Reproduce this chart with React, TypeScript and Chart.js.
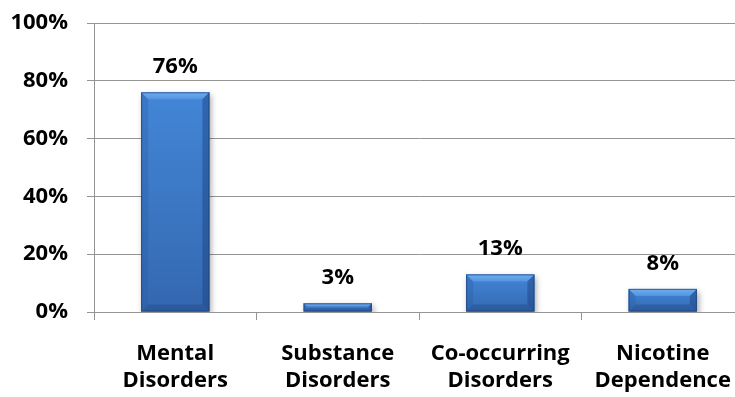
import React, { useEffect, useRef } from "react";
import { Chart, registerables } from "chart.js";

Chart.register(...registerables);

const categories: string[][] = [
  ["Mental", "Disorders"],
  ["Substance", "Disorders"],
  ["Co-occurring", "Disorders"],
  ["Nicotine", "Dependence"],
];
const shares: number[] = [76, 3, 13, 8];
const yTicks: number[] = [0, 20, 40, 60, 80, 100];

const FONT = "'Open Sans', Lato, sans-serif";
const GRID = "#949494";

// Shadowed bars with a bevelled face and a value label above each one
const bevelPlugin = {
  id: "bevelBars",
  beforeDatasetsDraw(chart: any) {
    const ctx = chart.ctx;
    ctx.save();
    ctx.shadowColor = "rgba(0,0,0,0.35)";
    ctx.shadowBlur = 6;
    ctx.shadowOffsetX = 2;
    ctx.shadowOffsetY = 3;
  },
  afterDatasetsDraw(chart: any) {
    const ctx = chart.ctx;
    ctx.restore();
    const meta = chart.getDatasetMeta(0);
    meta.data.forEach((el: any, i: number) => {
      const { x, y, base, width } = el.getProps(["x", "y", "base", "width"], true);
      const l = x - width / 2;
      const r = x + width / 2;
      const t = y;
      const btm = base;
      const h = btm - t;
      const b = Math.min(7, h * 0.4);

      ctx.save();
      // face
      const face = ctx.createLinearGradient(0, t, 0, btm);
      face.addColorStop(0, "#4386d7");
      face.addColorStop(1, "#3468b0");
      ctx.fillStyle = face;
      ctx.fillRect(l, t, width, h);

      const poly = (pts: number[][], fill: any) => {
        ctx.beginPath();
        ctx.moveTo(pts[0][0], pts[0][1]);
        for (let k = 1; k < pts.length; k++) ctx.lineTo(pts[k][0], pts[k][1]);
        ctx.closePath();
        ctx.fillStyle = fill;
        ctx.fill();
      };
      // top bevel
      const topG = ctx.createLinearGradient(0, t, 0, t + b);
      topG.addColorStop(0, "#72adef");
      topG.addColorStop(1, "#5294e0");
      poly([[l, t], [r, t], [r - b, t + b], [l + b, t + b]], topG);
      // left bevel
      poly([[l, t], [l + b, t + b], [l + b, btm - b], [l, btm]], "rgba(40,90,160,0.3)");
      // right bevel
      poly([[r, t], [r - b, t + b], [r - b, btm - b], [r, btm]], "rgba(25,60,120,0.42)");
      // bottom bevel
      poly([[l, btm], [l + b, btm - b], [r - b, btm - b], [r, btm]], "rgba(25,55,110,0.28)");
      // outline
      ctx.strokeStyle = "rgba(30,65,120,0.7)";
      ctx.lineWidth = 1;
      ctx.strokeRect(l + 0.5, t + 0.5, width - 1, h - 1);
      ctx.restore();

      // value label
      ctx.save();
      ctx.fillStyle = "#000";
      ctx.font = `bold 22px ${FONT}`;
      ctx.textAlign = "center";
      ctx.textBaseline = "alphabetic";
      ctx.fillText(`${shares[i]}%`, x, t - 19);
      ctx.restore();
    });
  },
};

export default function App() {
  const canvasRef = useRef<HTMLCanvasElement | null>(null);

  useEffect(() => {
    if (!canvasRef.current) return;
    const chart = new Chart(canvasRef.current, {
      type: "bar",
      data: {
        labels: categories,
        datasets: [
          {
            data: shares,
            backgroundColor: "#3a77c6",
            borderWidth: 0,
            barPercentage: 0.42,
            categoryPercentage: 1,
          },
        ],
      },
      options: {
        responsive: false,
        animation: false,
        layout: { padding: { top: 23, right: 8, left: 0, bottom: 0 } },
        plugins: {
          legend: { display: false },
          tooltip: { enabled: false },
        },
        scales: {
          x: {
            offset: true,
            grid: {
              offset: true,
              drawOnChartArea: false,
              tickLength: 8,
              color: GRID,
            },
            border: { color: GRID },
            ticks: {
              color: "#000",
              padding: 20,
              maxRotation: 0,
              autoSkip: false,
              font: { family: FONT, size: 22, weight: "bold", lineHeight: 1.23 },
            },
            afterFit: (scale: any) => {
              scale.height = 85;
            },
          },
          y: {
            min: 0,
            max: 100,
            afterBuildTicks: (scale: any) => {
              scale.ticks = yTicks.map((v) => ({ value: v }));
            },
            grid: { color: GRID, tickLength: 7 },
            border: { color: GRID },
            ticks: {
              color: "#000",
              padding: 19,
              callback: (v: any) => `${v}%`,
              font: { family: FONT, size: 22, weight: "bold" },
            },
            afterFit: (scale: any) => {
              scale.width = 94;
              scale.paddingTop = 0;
              scale.paddingBottom = 0;
            },
          },
        },
      },
      plugins: [bevelPlugin],
    });
    return () => chart.destroy();
  }, []);

  return (
    <div
      style={{
        position: "fixed",
        left: 0,
        top: 0,
        width: 735,
        height: 397,
        overflow: "hidden",
        background: "#fff",
      }}
    >
      <canvas ref={canvasRef} width={752} height={397} />
    </div>
  );
}
